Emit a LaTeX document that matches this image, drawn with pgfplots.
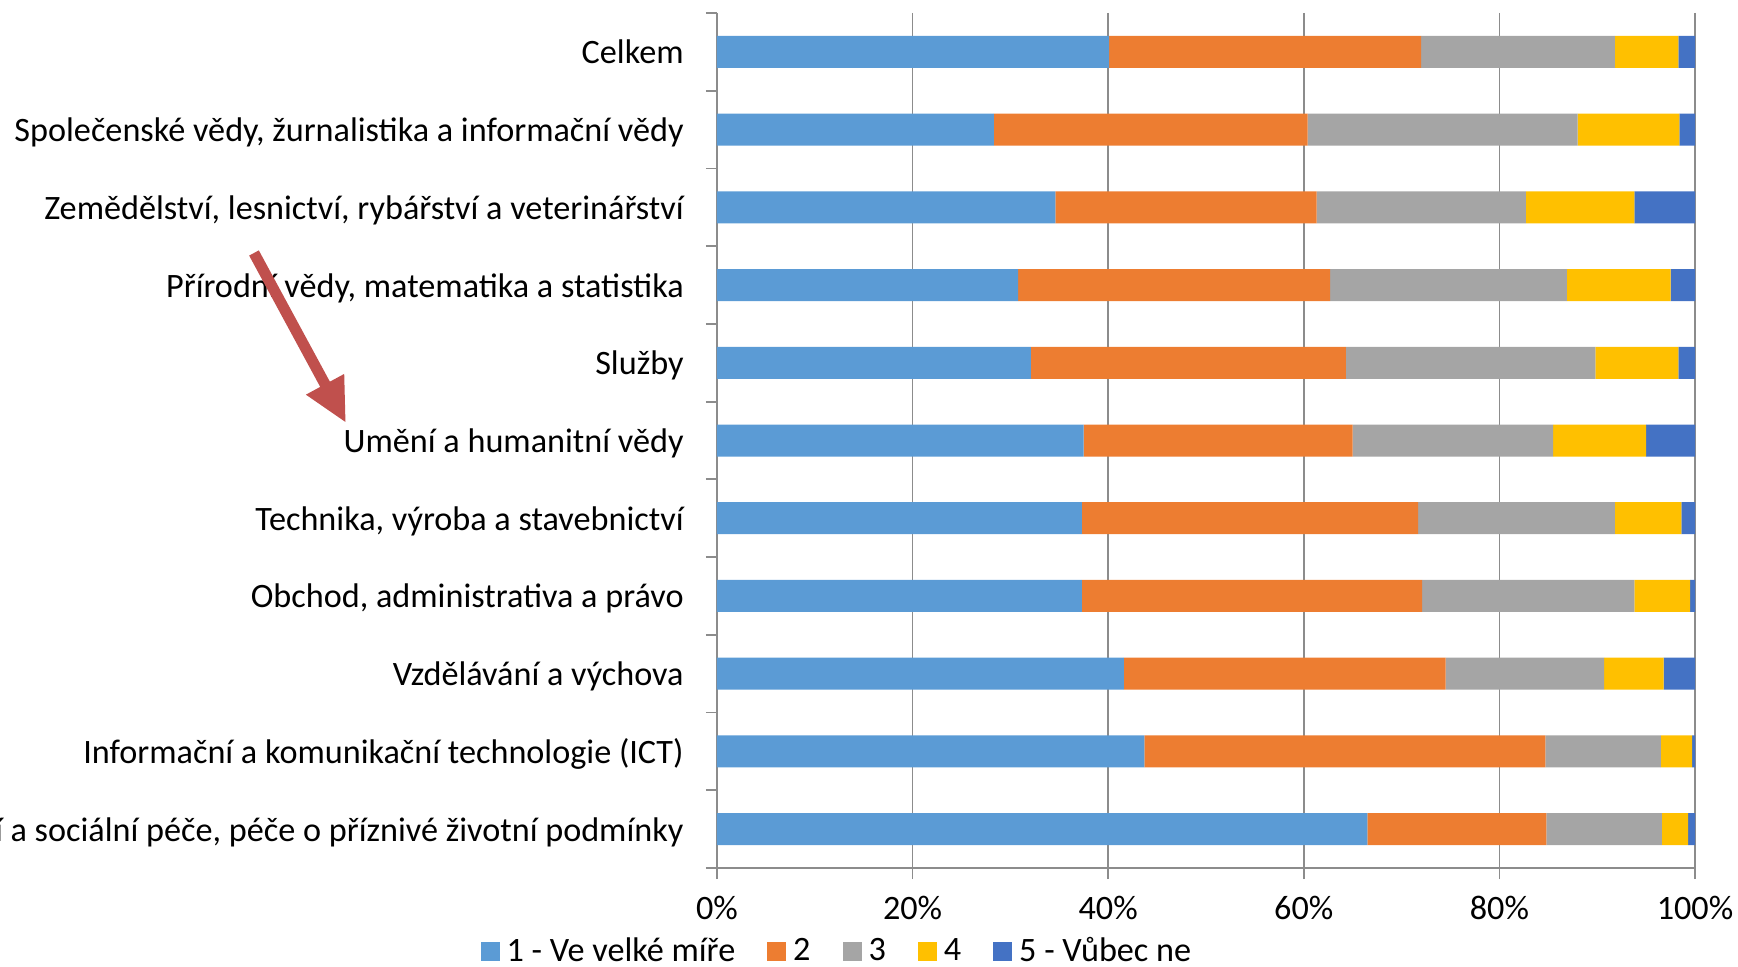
\documentclass[border=0pt]{standalone}
\usepackage{pgfplots}
\pgfplotsset{compat=1.18}
\usepackage{fontspec}
\setmainfont{Carlito}
\usetikzlibrary{arrows.meta}
\definecolor{c1}{HTML}{5B9BD5}
\definecolor{c2}{HTML}{ED7D31}
\definecolor{c3}{HTML}{A5A5A5}
\definecolor{c4}{HTML}{FFC000}
\definecolor{c5}{HTML}{4472C4}
\definecolor{axgray}{HTML}{8C8C8C}
\definecolor{arrowred}{HTML}{C0504D}
\begin{document}
\begin{tikzpicture}
\begin{axis}[
  name=ax,
  xbar stacked,
  bar width=16pt,
  width=489pt, height=427.5pt, scale only axis,
  xmin=0, xmax=100,
  ymin=-0.5, ymax=10.5, y dir=reverse,
  xtick={0,20,40,60,80,100},
  xticklabels={0\%,20\%,40\%,60\%,80\%,100\%},
  ytick={-0.5,0.5,1.5,2.5,3.5,4.5,5.5,6.5,7.5,8.5,9.5,10.5},
  yticklabels={{Celkem},{Společenské vědy, žurnalistika a informační vědy},{Zemědělství, lesnictví, rybářství a veterinářství},{Přírodní vědy, matematika a statistika},{Služby},{Umění a humanitní vědy},{Technika, výroba a stavebnictví},{Obchod, administrativa a právo},{Vzdělávání a výchova},{Informační a komunikační technologie (ICT)},{Zdravotní a sociální péče, péče o příznivé životní podmínky}},
  y tick label as interval,
  tick align=outside,
  major tick length=5.5pt,
  axis x line*=bottom, axis y line*=left,
  axis line style={draw=axgray, line width=0.9pt, -},
  xmajorgrids,
  grid style={draw=axgray, line width=0.9pt},
  tick style={draw=axgray, line width=0.9pt},
  ticklabel style={font=\fontsize{17.1pt}{20pt}\selectfont, text=black},
  yticklabel style={anchor=base east, inner sep=0pt, xshift=-11pt, yshift=-6pt},
  xticklabel style={yshift=-4.8pt},
  legend style={at={(0.1252,-0.0972)}, anchor=center, legend columns=-1, draw=none,
    font=\fontsize{17.1pt}{20pt}\selectfont, inner sep=0pt,
    /tikz/every even column/.append style={column sep=12.5pt},
    nodes={inner xsep=3.5pt, inner ysep=0pt}},
  legend image code/.code={\fill[#1] (0pt,-4.75pt) rectangle (9.5pt,4.75pt);},
]
\addplot[fill=c1, draw=none] coordinates {(40.1,0) (28.3,1) (34.6,2) (30.8,3) (32.1,4) (37.5,5) (37.3,6) (37.3,7) (41.6,8) (43.7,9) (66.5,10)};
\addplot[fill=c2, draw=none] coordinates {(31.9,0) (32.1,1) (26.7,2) (31.9,3) (32.2,4) (27.5,5) (34.4,6) (34.8,7) (32.9,8) (41.0,9) (18.3,10)};
\addplot[fill=c3, draw=none] coordinates {(19.8,0) (27.6,1) (21.4,2) (24.2,3) (25.5,4) (20.5,5) (20.1,6) (21.7,7) (16.2,8) (11.8,9) (11.8,10)};
\addplot[fill=c4, draw=none] coordinates {(6.5,0) (10.4,1) (11.1,2) (10.6,3) (8.5,4) (9.5,5) (6.8,6) (5.7,7) (6.1,8) (3.2,9) (2.7,10)};
\addplot[fill=c5, draw=none] coordinates {(1.7,0) (1.6,1) (6.2,2) (2.5,3) (1.7,4) (5.0,5) (1.4,6) (0.5,7) (3.2,8) (0.3,9) (0.7,10)};
\legend{1 - Ve velké míře, 2, 3, 4, 5 - Vůbec ne}
\end{axis}
\draw[arrowred, line width=5.5pt, -{Triangle[length=22pt,width=20pt]}]
  ([xshift=-231.5pt,yshift=307.5pt]ax.south west) -- ([xshift=-185.5pt,yshift=222.5pt]ax.south west);
\pgfresetboundingbox
\path[use as bounding box] ([xshift=-358.5pt,yshift=-49.5pt]ax.south west) rectangle ([xshift=21.5pt,yshift=6.5pt]ax.north east);
\end{tikzpicture}
\end{document}
